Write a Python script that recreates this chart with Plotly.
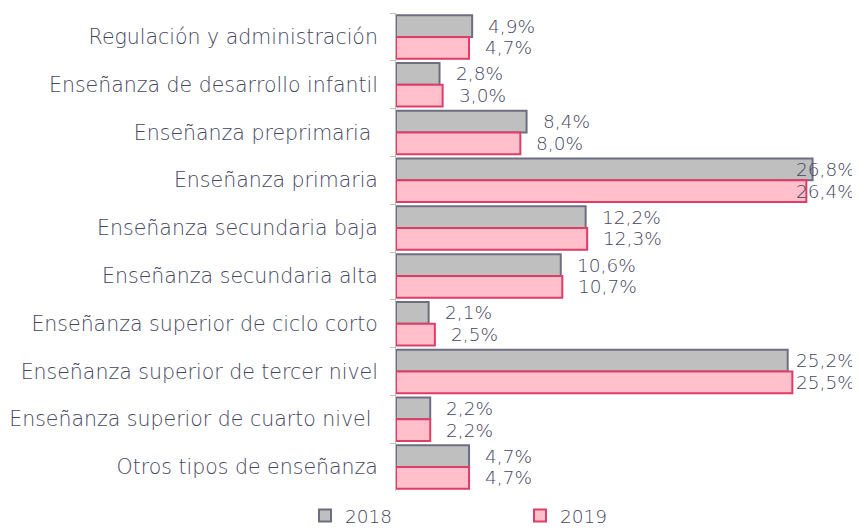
import plotly.graph_objects as go

categories = [
    "Regulación y administración",
    "Enseñanza de desarrollo infantil",
    "Enseñanza preprimaria ",
    "Enseñanza primaria",
    "Enseñanza secundaria baja",
    "Enseñanza secundaria alta",
    "Enseñanza superior de ciclo corto",
    "Enseñanza superior de tercer nivel",
    "Enseñanza superior de cuarto nivel ",
    "Otros tipos de enseñanza",
]
values_2018 = [4.9, 2.8, 8.4, 26.8, 12.2, 10.6, 2.1, 25.2, 2.2, 4.7]
values_2019 = [4.7, 3.0, 8.0, 26.4, 12.3, 10.7, 2.5, 25.5, 2.2, 4.7]
series_names = ["2018", "2019"]

TEXT = "#45465f"
FONT = "DejaVu Sans"
W = 200
XMAX = 28.5

# page body has an 8px default margin; figure sized to fit the 860x529 window
FIG_W, FIG_H = 852, 521

fig = go.Figure()
fig.add_trace(go.Bar(
    y=categories, x=values_2018, name=series_names[0], orientation="h",
    marker=dict(color="#bfbfbf", line=dict(color="#6e6e82", width=2)),
))
fig.add_trace(go.Bar(
    y=categories, x=values_2019, name=series_names[1], orientation="h",
    marker=dict(color="#ffc0cb", line=dict(color="#e03c66", width=2)),
))

def fmt(v):
    return f"{v:.1f}%".replace(".", ",")

# data labels
for vals, off in [(values_2018, -0.225), (values_2019, 0.225)]:
    for j, v in enumerate(vals):
        big = v > 20
        fig.add_annotation(
            x=(1.0 if big else v), xref=("paper" if big else "x"),
            y=j + off, yref="y",
            text=fmt(v), showarrow=False,
            xanchor=("right" if big else "left"),
            xshift=(18 if big else 14),
            font=dict(family=FONT, size=18.5, color=TEXT, weight=W),
        )

fig.update_layout(
    width=FIG_W, height=FIG_H,
    margin=dict(l=388, r=21, t=5, b=38, autoexpand=False),
    paper_bgcolor="white", plot_bgcolor="white",
    barmode="group", bargap=0.09, bargroupgap=0.0,
    font=dict(family=FONT, size=18.5, color=TEXT, weight=W),
    showlegend=True,
    legend=dict(orientation="h", xref="container", yref="container",
                x=297 / FIG_W, xanchor="left", y=13 / FIG_H, yanchor="middle",
                font=dict(family=FONT, size=18.5, color=TEXT, weight=W),
                itemwidth=30, tracegroupgap=0, entrywidth=170),
)
fig.update_xaxes(range=[0, XMAX], visible=False, showgrid=False, zeroline=False)
fig.update_yaxes(
    autorange="reversed", showgrid=False, zeroline=False, automargin=False,
    showline=True, linecolor="#bfbfbf", linewidth=1,
    ticks="outside", tickson="boundaries", ticklen=5, tickcolor="#bfbfbf",
    ticklabelstandoff=13,
    tickfont=dict(family=FONT, size=20.5, color=TEXT, weight=W),
)

fig.write_html("out.html")
